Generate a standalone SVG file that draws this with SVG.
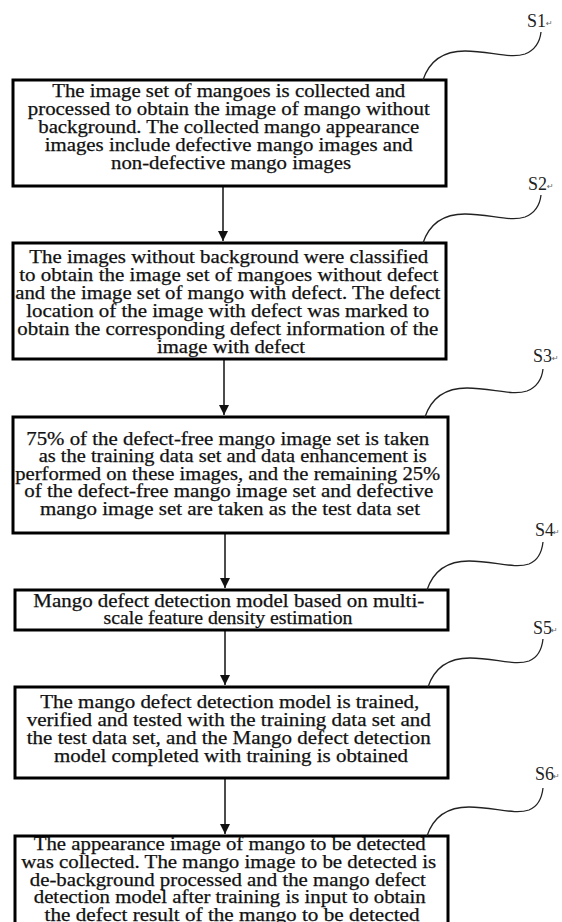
<svg xmlns="http://www.w3.org/2000/svg" width="562" height="922" viewBox="0 0 562 922">
  <style>
    .box { fill: #fff; stroke: #000; stroke-width: 3; }
    .txt { font-family: "Liberation Serif", "Times New Roman", serif; font-size: 18px; fill: #111; stroke: #111; stroke-width: 0.25; text-anchor: middle; }
    .lbl { font-family: "Liberation Serif", "Times New Roman", serif; font-size: 18px; fill: #222; }
    .ret { font-family: "DejaVu Sans", sans-serif; font-size: 8px; fill: #666; }
    .lead { fill: none; stroke: #222; stroke-width: 1.3; }
    .flow { fill: none; stroke: #111; stroke-width: 1.5; }
  </style>
  <defs>
    <marker id="arrow" viewBox="0 0 10 11" refX="10" refY="5" markerWidth="10" markerHeight="11" markerUnits="userSpaceOnUse" orient="auto">
      <path d="M0,0 L10,5 L0,10 Z" fill="#111"/>
    </marker>
  </defs>
  <rect width="562" height="922" fill="#fff"/>

  <!-- flow arrows between steps -->
  <g id="connectors">
    <line class="flow" x1="223" y1="187" x2="223" y2="241" marker-end="url(#arrow)"/>
    <line class="flow" x1="224" y1="360" x2="224" y2="415" marker-end="url(#arrow)"/>
    <line class="flow" x1="225" y1="534" x2="225" y2="588" marker-end="url(#arrow)"/>
    <line class="flow" x1="225" y1="631" x2="225" y2="685" marker-end="url(#arrow)"/>
    <line class="flow" x1="225" y1="779" x2="225" y2="834" marker-end="url(#arrow)"/>
  </g>

  <g id="s1">
    <rect class="box" x="13" y="80" width="433" height="106"/>
    <text class="txt">
      <tspan x="231" y="97" textLength="353" lengthAdjust="spacingAndGlyphs">The image set of mangoes is collected and</tspan>
      <tspan x="231" y="115" textLength="402" lengthAdjust="spacingAndGlyphs">processed to obtain the image of mango without</tspan>
      <tspan x="231" y="133" textLength="381" lengthAdjust="spacingAndGlyphs">background. The collected mango appearance</tspan>
      <tspan x="231" y="151" textLength="368" lengthAdjust="spacingAndGlyphs">images include defective mango images and</tspan>
      <tspan x="231" y="169" textLength="240" lengthAdjust="spacingAndGlyphs">non-defective mango images</tspan>
    </text>
    <path class="lead" d="M423,80 C430,59 445,51 465,51 C490,51 510,59 525,54 C535,50 540,41 541,32"/>
    <text class="lbl" x="527" y="27">S1</text><text class="ret" x="546" y="26">↵</text>
  </g>

  <g id="s2">
    <rect class="box" x="13" y="243" width="433" height="116"/>
    <text class="txt">
      <tspan x="231" y="263" textLength="399" lengthAdjust="spacingAndGlyphs">The images without background were classified</tspan>
      <tspan x="231" y="281" textLength="419" lengthAdjust="spacingAndGlyphs">to obtain the image set of mangoes without defect</tspan>
      <tspan x="230" y="299" textLength="425" lengthAdjust="spacingAndGlyphs">and the image set of mango with defect. The defect</tspan>
      <tspan x="230" y="317" textLength="403" lengthAdjust="spacingAndGlyphs">location of the image with defect was marked to</tspan>
      <tspan x="230" y="335" textLength="421" lengthAdjust="spacingAndGlyphs">obtain the corresponding defect information of the</tspan>
      <tspan x="231" y="353" textLength="148" lengthAdjust="spacingAndGlyphs">image with defect</tspan>
    </text>
    <path class="lead" d="M423,243 C430,222 445,214 465,214 C490,214 510,222 525,217 C535,213 540,204 541,195"/>
    <text class="lbl" x="528" y="190">S2</text><text class="ret" x="547" y="189">↵</text>
  </g>

  <g id="s3">
    <rect class="box" x="13" y="417" width="435" height="116"/>
    <text class="txt">
      <tspan x="230" y="445" textLength="403" lengthAdjust="spacingAndGlyphs">75% of the defect-free mango image set is taken</tspan>
      <tspan x="235" y="462" textLength="388" lengthAdjust="spacingAndGlyphs">as the training data set and data enhancement is</tspan>
      <tspan x="230" y="480" textLength="425" lengthAdjust="spacingAndGlyphs">performed on these images, and the remaining 25%</tspan>
      <tspan x="231" y="497" textLength="409" lengthAdjust="spacingAndGlyphs">of the defect-free mango image set and defective</tspan>
      <tspan x="230" y="515" textLength="380" lengthAdjust="spacingAndGlyphs">mango image set are taken as the test data set</tspan>
    </text>
    <path class="lead" d="M425,417 C432,396 447,388 467,388 C492,388 512,396 527,391 C537,387 542,378 543,369"/>
    <text class="lbl" x="533" y="362">S3</text><text class="ret" x="552" y="361">↵</text>
  </g>

  <g id="s4">
    <rect class="box" x="15" y="590" width="433" height="40"/>
    <text class="txt">
      <tspan x="231" y="607" textLength="391" lengthAdjust="spacingAndGlyphs">Mango defect detection model based on multi-</tspan>
      <tspan x="228" y="624" textLength="249" lengthAdjust="spacingAndGlyphs">scale feature density estimation</tspan>
    </text>
    <path class="lead" d="M427,590 C434,569 449,561 469,561 C494,561 514,569 529,564 C539,560 542,551 543,542"/>
    <text class="lbl" x="535" y="536">S4</text><text class="ret" x="553" y="535">↵</text>
  </g>

  <g id="s5">
    <rect class="box" x="15" y="687" width="433" height="91"/>
    <text class="txt">
      <tspan x="232" y="708" textLength="379" lengthAdjust="spacingAndGlyphs">The mango defect detection model is trained,</tspan>
      <tspan x="231" y="726" textLength="404" lengthAdjust="spacingAndGlyphs">verified and tested with the training data set and</tspan>
      <tspan x="231" y="744" textLength="404" lengthAdjust="spacingAndGlyphs">the test data set, and the Mango defect detection</tspan>
      <tspan x="231" y="762" textLength="354" lengthAdjust="spacingAndGlyphs">model completed with training is obtained</tspan>
    </text>
    <path class="lead" d="M428,687 C435,666 450,658 470,658 C495,658 514,666 529,661 C539,657 542,648 543,639"/>
    <text class="lbl" x="533" y="634">S5</text><text class="ret" x="551" y="633">↵</text>
  </g>

  <g id="s6">
    <rect class="box" x="15" y="836" width="433" height="110"/>
    <text class="txt">
      <tspan x="232" y="850" textLength="392" lengthAdjust="spacingAndGlyphs">The appearance image of mango to be detected</tspan>
      <tspan x="231" y="868" textLength="415" lengthAdjust="spacingAndGlyphs">was collected. The mango image to be detected is</tspan>
      <tspan x="230" y="886" textLength="396" lengthAdjust="spacingAndGlyphs">de-background processed and the mango defect</tspan>
      <tspan x="232" y="903" textLength="392" lengthAdjust="spacingAndGlyphs">detection model after training is input to obtain</tspan>
      <tspan x="232" y="921" textLength="375" lengthAdjust="spacingAndGlyphs">the defect result of the mango to be detected</tspan>
    </text>
    <path class="lead" d="M427,836 C434,815 449,807 469,807 C494,807 514,815 529,810 C539,806 542,797 543,788"/>
    <text class="lbl" x="535" y="780">S6</text><text class="ret" x="553" y="779">↵</text>
  </g>
</svg>
